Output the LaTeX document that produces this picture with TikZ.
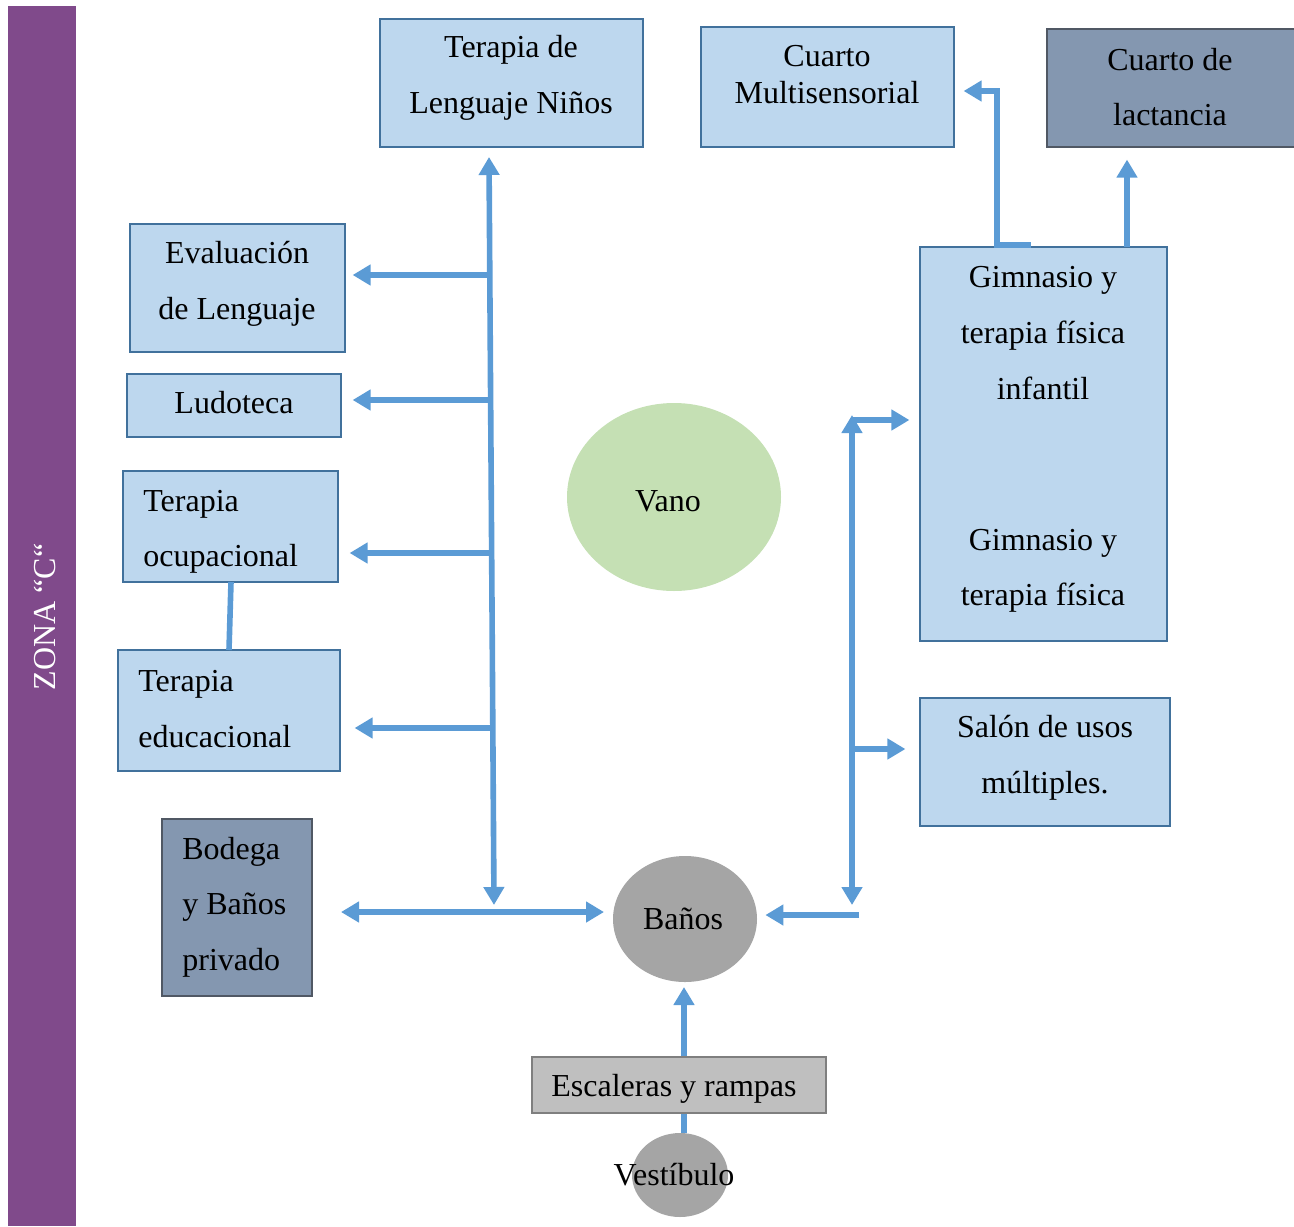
\documentclass[tikz,border=0pt]{standalone}
\usepackage{fontspec}
\setmainfont{Liberation Serif}
\usetikzlibrary{arrows.meta,shapes.geometric}

\definecolor{zonepurple}{RGB}{128,74,139}
\definecolor{flowblue}{RGB}{91,155,213}
\definecolor{boxfill}{RGB}{189,215,238}
\definecolor{boxline}{RGB}{65,113,156}
\definecolor{darkfill}{RGB}{132,151,176}
\definecolor{darkline}{RGB}{80,88,100}
\definecolor{vanofill}{RGB}{197,224,180}
\definecolor{grayfill}{RGB}{165,165,165}
\definecolor{stairfill}{RGB}{191,191,191}
\definecolor{stairline}{RGB}{127,127,127}

\tikzset{
  room/.style={draw=boxline, fill=boxfill, line width=0.6pt, inner sep=0pt},
  darkroom/.style={draw=darkline, fill=darkfill, line width=0.6pt, inner sep=0pt},
  label/.style={inner sep=0pt, font=\fontsize{16}{27.8}\selectfont, align=center},
  labell/.style={inner sep=0pt, font=\fontsize{16}{27.8}\selectfont, align=left, anchor=west},
  flow/.style={draw=flowblue, line width=2.8pt},
  arr/.style={flow, -{Triangle[length=9pt,width=10pt]}},
  dblarr/.style={flow, {Triangle[length=9pt,width=10pt]}-{Triangle[length=9pt,width=10pt]}},
}

\begin{document}
\begin{tikzpicture}[x=0.5pt, y=-0.5pt]
\useasboundingbox (0,0) rectangle (1294,1226);

% zone band
\fill[zonepurple] (8,6) rectangle (76,1226);
\node[rotate=90, text=white, inner sep=0pt, font=\fontsize{16}{18}\selectfont] (zona) at (45,617) {ZONA “C“};

% rooms
\node[room, minimum width=131.5pt, minimum height=64pt] (tln) at (511.5,83) {};
\node[room, minimum width=126.5pt, minimum height=60pt] (cms) at (827.5,87) {};
\node[darkroom, minimum width=124.5pt, minimum height=59pt] (lac) at (1171.5,88) {};
\node[room, minimum width=107.5pt, minimum height=64pt] (eva) at (237.5,288) {};
\node[room, minimum width=107pt, minimum height=31.5pt] (lud) at (234,405.5) {};
\node[room, minimum width=107.5pt, minimum height=55.5pt] (toc) at (230.5,526.5) {};
\node[room, minimum width=111pt, minimum height=60.5pt] (ted) at (229,710.5) {};
\node[darkroom, minimum width=75pt, minimum height=88.5pt] (bod) at (237,907.5) {};
\node[room, minimum width=123.5pt, minimum height=197pt] (gim) at (1043.5,444) {};
\node[room, minimum width=125pt, minimum height=64pt] (sal) at (1045,762) {};
\node[draw=stairline, fill=stairfill, line width=0.6pt, inner sep=0pt,
      minimum width=147pt, minimum height=28pt] (esc) at (679,1085) {};
\node[ellipse, fill=vanofill, minimum width=107pt, minimum height=94pt, inner sep=0pt] (vano) at (674,497) {};
\node[ellipse, fill=grayfill, minimum width=72pt, minimum height=63pt, inner sep=0pt] (ban) at (685,919) {};
\node[ellipse, fill=grayfill, minimum width=48pt, minimum height=42pt, inner sep=0pt] (ves) at (680,1175) {};

% texts
\node[label] (tln-t) at (511,78) {Terapia de\\Lenguaje Niños};
\node[label, font=\fontsize{16}{18.5}\selectfont] (cms-t) at (827,75) {Cuarto\\Multisensorial};
\node[label] (lac-t) at (1170,87) {Cuarto de\\lactancia};
\node[label] (eva-t) at (237,284) {Evaluación\\de Lenguaje};
\node[label] (lud-t) at (234,403) {Ludoteca};
\node[labell] (toc-t) at (143,532) {Terapia\\ocupacional};
\node[labell] (ted-t) at (138,709) {Terapia\\educacional};
\node[labell] (bod-t) at (182,907) {Bodega\\y Baños\\privado};
\node[label] (gim-t1) at (1043,333) {Gimnasio y\\terapia física\\infantil};
\node[label] (gim-t2) at (1043,571) {Gimnasio y\\terapia física};
\node[label] (sal-t) at (1045,758) {Salón de usos\\múltiples.};
\node[label] (vano-t) at (668,501) {Vano};
\node[label] (ban-t) at (683,919) {Baños};
\node[label] (esc-t) at (674,1089) {Escaleras y rampas};
\node[label] (ves-t) at (674,1175) {Vestíbulo};

% left trunk and its branches
\coordinate (ltop) at (489,157);
\coordinate (lbot) at (494,905);
\draw[dblarr] (ltop) -- (lbot);
\coordinate (je) at (492,275);
\coordinate (jl) at (492,400);
\coordinate (jo) at (492,553);
\coordinate (jd) at (492,728);
\draw[arr, shorten >=3.5pt] (je) -- (je -| eva.east);
\draw[arr, shorten >=5.5pt] (jl) -- (jl -| lud.east);
\draw[arr, shorten >=5.5pt] (jo) -- (jo -| toc.east);
\draw[arr, shorten >=7pt] (jd) -- (jd -| ted.east);
\draw[flow] (231,582) -- (229,650);

% lower distribution line
\coordinate (bl) at (341,912);
\coordinate (br) at (604,912);
\draw[dblarr] (bl) -- (br);

% right trunk and its branches
\coordinate (rtop) at (852,415);
\coordinate (rbot) at (852,905);
\draw[dblarr] (rtop) -- (rbot);
\coordinate (jg) at (851,420);
\coordinate (js) at (851,749);
\draw[arr, shorten >=5pt] (jg) -- (jg -| gim.west);
\draw[arr, shorten >=7pt] (js) -- (js -| sal.west);
\coordinate (rb) at (859,915);
\draw[arr, shorten >=4pt] (rb) -- (rb -| ban.east);

% gym exits
\coordinate (gm) at (1031,245);
\draw[arr, shorten >=4.5pt] (gm) -- (997,245) -- (997,91) -- (cms.east |- 0,91);
\coordinate (gl) at (1127,247);
\draw[arr, shorten >=6pt] (gl) -- (gl |- lac.south);

% entrance path
\draw[arr, shorten >=2.5pt] (esc.north -| 684,0) -- (684,982);
\draw[flow] (esc.south -| 684,0) -- (684,1133);
\end{tikzpicture}
\end{document}
